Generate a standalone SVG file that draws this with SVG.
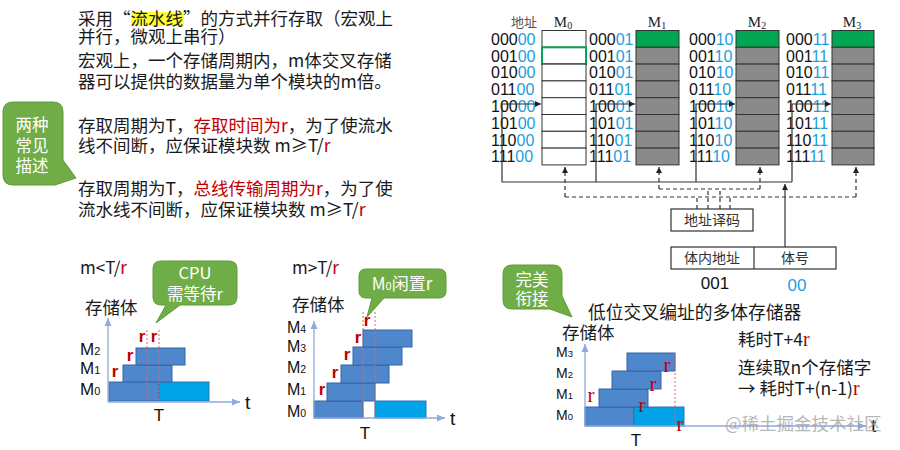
<svg xmlns="http://www.w3.org/2000/svg" width="900" height="450" viewBox="0 0 900 450">
<defs>
<style>
.t{font-family:"Noto Sans CJK SC","Liberation Sans",sans-serif;font-size:17.5px;fill:#1a1a1a}
.red{fill:#C00000}
.sr{font-family:"Liberation Serif",serif;font-size:20px;fill:#C00000}
.addr{font-family:"Liberation Sans",sans-serif;font-size:16px;fill:#111}
.bl{fill:#1CA0DC}
.ser{font-family:"Liberation Serif","Noto Sans CJK SC",serif;fill:#222}
.lab{font-family:"Noto Sans CJK SC",sans-serif;font-size:14px;fill:#333}
.cell{fill:#fff;stroke:#333;stroke-width:1}
.gc{fill:#8A8A8A;stroke:#333;stroke-width:1}
.gr{fill:#00A651;stroke:#333;stroke-width:1}
.bar{fill:#4F87CD;stroke:#3565A8;stroke-width:1}
.cy{fill:#00A2E8;stroke:#2F75B5;stroke-width:1}
.co{fill:#70AD47;stroke:#5E9A3A;stroke-width:1}
.ct{font-family:"Noto Sans CJK SC","Liberation Sans",sans-serif;font-size:17px;fill:#fff;text-anchor:middle}
.ax{stroke:#8FAADC;stroke-width:1.3;fill:none}
.dr{stroke:#E06666;stroke-width:1;stroke-dasharray:2,2;fill:none}
.ln{stroke:#333;stroke-width:1.2;fill:none}
.ds{stroke:#333;stroke-width:1.2;fill:none;stroke-dasharray:4,3}
.rr{font-family:"Liberation Sans",sans-serif;font-size:17px;font-weight:bold;fill:#C00000;text-anchor:middle}
.rs{font-family:"Liberation Serif",serif;font-size:21px;fill:#C00000;text-anchor:middle}
.ml{font-family:"Liberation Sans",sans-serif;fill:#111}
</style>
<marker id="ab" markerWidth="8" markerHeight="8" refX="6" refY="4" orient="auto" markerUnits="userSpaceOnUse"><path d="M0,1 L6,4 L0,7 Z" fill="#222"/></marker>
<marker id="aa" markerWidth="10" markerHeight="10" refX="8" refY="5" orient="auto" markerUnits="userSpaceOnUse"><path d="M0,1.5 L8,5 L0,8.5 Z" fill="#8FAADC"/></marker>
</defs>
<rect width="900" height="450" fill="#fff"/>

<!-- top-left text -->
<g id="desc">
<rect x="131" y="12" width="53" height="14" fill="#FFFF33"/>
<text class="t" x="78" y="25">采用“流水线”的方式并行存取（宏观上</text>
<text class="t" x="78" y="43">并行，微观上串行）</text>
<text class="t" x="78" y="66.5">宏观上，一个存储周期内，m体交叉存储</text>
<text class="t" x="78" y="87.5">器可以提供的数据量为单个模块的m倍。</text>
<text class="t" x="78" y="131.5">存取周期为T，<tspan class="red">存取时间为r</tspan>，为了使流水</text>
<text class="t" x="78" y="152">线不间断，应保证模块数 m≥T/<tspan class="red">r</tspan></text>
<text class="t" x="78" y="195">存取周期为T，<tspan class="red">总线传输周期为r</tspan>，为了使</text>
<text class="t" x="78" y="215.5">流水线不间断，应保证模块数 m≥T/<tspan class="red">r</tspan></text>
</g>
<g id="callout-two">
<path class="co" d="M13,102 H53 Q63,102 63,112 V160 L76,178 L55,185 H13 Q3,185 3,175 V112 Q3,102 13,102 Z"/>
<text class="ct" x="32" y="131" style="font-size:16.5px">两种</text>
<text class="ct" x="32" y="151.5" style="font-size:16.5px">常见</text>
<text class="ct" x="32" y="171.5" style="font-size:16.5px">描述</text>
</g>

<!-- memory modules -->
<text class="lab" x="524" y="27" text-anchor="middle" style="font-size:13px;fill:#555">地址</text>
<g id="M0">
<text class="ser" x="563" y="27" text-anchor="middle" font-size="15">M<tspan font-size="10" dy="2">0</tspan></text>
<rect class="cell" x="542" y="30.5" width="44" height="16.8"/>
<rect class="cell" x="542" y="47.3" width="44" height="16.8" style="stroke:#00A651;stroke-width:2"/>
<rect class="cell" x="542" y="64.1" width="44" height="16.8"/>
<rect class="cell" x="542" y="80.9" width="44" height="16.8"/>
<rect class="cell" x="542" y="97.7" width="44" height="16.8"/>
<rect class="cell" x="542" y="114.5" width="44" height="16.8"/>
<rect class="cell" x="542" y="131.3" width="44" height="16.8"/>
<rect class="cell" x="542" y="148.1" width="44" height="16.8"/>
<text class="addr" x="491" y="44.7">000<tspan class="bl">00</tspan></text>
<text class="addr" x="491" y="61.5">001<tspan class="bl">00</tspan></text>
<text class="addr" x="491" y="78.3">010<tspan class="bl">00</tspan></text>
<text class="addr" x="491" y="95.1">011<tspan class="bl">00</tspan></text>
<text class="addr" x="491" y="111.9">100<tspan class="bl">00</tspan></text>
<text class="addr" x="491" y="128.7">101<tspan class="bl">00</tspan></text>
<text class="addr" x="491" y="145.5">110<tspan class="bl">00</tspan></text>
<text class="addr" x="491" y="162.3">111<tspan class="bl">00</tspan></text>
</g>
<g id="M1">
<text class="ser" x="657" y="27" text-anchor="middle" font-size="15">M<tspan font-size="10" dy="2">1</tspan></text>
<rect class="gr" x="636" y="30.5" width="43" height="16.8"/>
<rect class="gc" x="636" y="47.3" width="43" height="16.8"/>
<rect class="gc" x="636" y="64.1" width="43" height="16.8"/>
<rect class="gc" x="636" y="80.9" width="43" height="16.8"/>
<rect class="gc" x="636" y="97.7" width="43" height="16.8"/>
<rect class="gc" x="636" y="114.5" width="43" height="16.8"/>
<rect class="gc" x="636" y="131.3" width="43" height="16.8"/>
<rect class="gc" x="636" y="148.1" width="43" height="16.8"/>
<text class="addr" x="589" y="44.7">000<tspan class="bl">01</tspan></text>
<text class="addr" x="589" y="61.5">001<tspan class="bl">01</tspan></text>
<text class="addr" x="589" y="78.3">010<tspan class="bl">01</tspan></text>
<text class="addr" x="589" y="95.1">011<tspan class="bl">01</tspan></text>
<text class="addr" x="589" y="111.9">100<tspan class="bl">01</tspan></text>
<text class="addr" x="589" y="128.7">101<tspan class="bl">01</tspan></text>
<text class="addr" x="589" y="145.5">110<tspan class="bl">01</tspan></text>
<text class="addr" x="589" y="162.3">111<tspan class="bl">01</tspan></text>
</g>
<g id="M2">
<text class="ser" x="757" y="27" text-anchor="middle" font-size="15">M<tspan font-size="10" dy="2">2</tspan></text>
<rect class="gr" x="736" y="30.5" width="43" height="16.8"/>
<rect class="gc" x="736" y="47.3" width="43" height="16.8"/>
<rect class="gc" x="736" y="64.1" width="43" height="16.8"/>
<rect class="gc" x="736" y="80.9" width="43" height="16.8"/>
<rect class="gc" x="736" y="97.7" width="43" height="16.8"/>
<rect class="gc" x="736" y="114.5" width="43" height="16.8"/>
<rect class="gc" x="736" y="131.3" width="43" height="16.8"/>
<rect class="gc" x="736" y="148.1" width="43" height="16.8"/>
<text class="addr" x="689" y="44.7">000<tspan class="bl">10</tspan></text>
<text class="addr" x="689" y="61.5">001<tspan class="bl">10</tspan></text>
<text class="addr" x="689" y="78.3">010<tspan class="bl">10</tspan></text>
<text class="addr" x="689" y="95.1">011<tspan class="bl">10</tspan></text>
<text class="addr" x="689" y="111.9">100<tspan class="bl">10</tspan></text>
<text class="addr" x="689" y="128.7">101<tspan class="bl">10</tspan></text>
<text class="addr" x="689" y="145.5">110<tspan class="bl">10</tspan></text>
<text class="addr" x="689" y="162.3">111<tspan class="bl">10</tspan></text>
</g>
<g id="M3">
<text class="ser" x="852" y="27" text-anchor="middle" font-size="15">M<tspan font-size="10" dy="2">3</tspan></text>
<rect class="gr" x="832" y="30.5" width="42" height="16.8"/>
<rect class="gc" x="832" y="47.3" width="42" height="16.8"/>
<rect class="gc" x="832" y="64.1" width="42" height="16.8"/>
<rect class="gc" x="832" y="80.9" width="42" height="16.8"/>
<rect class="gc" x="832" y="97.7" width="42" height="16.8"/>
<rect class="gc" x="832" y="114.5" width="42" height="16.8"/>
<rect class="gc" x="832" y="131.3" width="42" height="16.8"/>
<rect class="gc" x="832" y="148.1" width="42" height="16.8"/>
<text class="addr" x="786" y="44.7">000<tspan class="bl">11</tspan></text>
<text class="addr" x="786" y="61.5">001<tspan class="bl">11</tspan></text>
<text class="addr" x="786" y="78.3">010<tspan class="bl">11</tspan></text>
<text class="addr" x="786" y="95.1">011<tspan class="bl">11</tspan></text>
<text class="addr" x="786" y="111.9">100<tspan class="bl">11</tspan></text>
<text class="addr" x="786" y="128.7">101<tspan class="bl">11</tspan></text>
<text class="addr" x="786" y="145.5">110<tspan class="bl">11</tspan></text>
<text class="addr" x="786" y="162.3">111<tspan class="bl">11</tspan></text>
</g>

<g id="decoder">
<rect x="671" y="209" width="82" height="22" fill="#fff" stroke="#333" stroke-width="1.2"/>
<text class="lab" x="712" y="225" text-anchor="middle">地址译码</text>
</g>
<g id="register">
<rect x="671" y="247" width="165" height="22" fill="#fff" stroke="#333" stroke-width="1.2"/>
<line x1="754" y1="247" x2="754" y2="269" stroke="#333" stroke-width="1.2"/>
<text class="lab" x="712" y="263" text-anchor="middle">体内地址</text>
<text class="lab" x="795" y="263" text-anchor="middle">体号</text>
<text class="addr" x="715" y="289" text-anchor="middle" style="font-size:17px">001</text>
<text class="addr bl" x="797" y="291" text-anchor="middle" style="font-size:17px">00</text>
</g>

<g id="connectors">
<path class="ln" d="M502,182 V104 H541" marker-end="url(#ab)"/>
<path class="ln" d="M596,182 V104 H635" marker-end="url(#ab)"/>
<path class="ln" d="M696,182 V104 H735" marker-end="url(#ab)"/>
<path class="ln" d="M792,182 V104 H831" marker-end="url(#ab)"/>
<path class="ln" d="M502,182 H792"/>
<path class="ln" d="M785,247 V184" marker-end="url(#ab)"/>
<path class="ds" d="M565,197 H856"/>
<path class="ds" d="M659,189 H760"/>
<path class="ds" d="M697,209 V197 M730,209 V197 M708,209 V189 M720,209 V189"/>
<path class="ds" d="M565,197 V167" marker-end="url(#ab)"/>
<path class="ds" d="M856,197 V167" marker-end="url(#ab)"/>
<path class="ds" d="M659,189 V167" marker-end="url(#ab)"/>
<path class="ds" d="M760,189 V167" marker-end="url(#ab)"/>
</g>

<!-- chart 1: m<T/r -->
<g id="chart-less">
<text class="t" x="80" y="274" style="font-size:17px">m&lt;T/<tspan class="red">r</tspan></text>
<text class="t" x="85" y="313.5" style="font-size:17.5px">存储体</text>
<path class="co" d="M161,261 H229 Q237,261 237,269 V297 Q237,305 229,305 H180 L156,323 L166,305 H161 Q153,305 153,297 V269 Q153,261 161,261 Z"/>
<text class="ct" x="195" y="279" style="font-size:16.5px">CPU</text>
<text class="ct" x="195" y="300" style="font-size:16.5px">需等待r</text>
<rect class="bar" x="109" y="382" width="50" height="19"/>
<rect class="cy" x="159" y="382" width="50" height="19"/>
<rect class="bar" x="123" y="365" width="49" height="17"/>
<rect class="bar" x="136" y="348" width="49" height="17"/>
<path class="dr" d="M147,330 V402 M159,330 V402"/>
<path class="ax" d="M108,402 V318" marker-end="url(#aa)"/>
<path class="ax" d="M108,402 H240" marker-end="url(#aa)"/>
<text class="ml" x="245" y="409" font-size="19">t</text>
<text class="ml" x="159" y="421" font-size="17" text-anchor="middle">T</text>
<text class="rr" x="115" y="377">r</text>
<text class="rr" x="130" y="361">r</text>
<text class="rr" x="142" y="342">r</text>
<text class="rr" x="154" y="342">r</text>
<text class="ml" x="80" y="355" font-size="17">M<tspan font-size="11">2</tspan></text>
<text class="ml" x="80" y="374" font-size="17">M<tspan font-size="11">1</tspan></text>
<text class="ml" x="80" y="395" font-size="17">M<tspan font-size="11">0</tspan></text>
</g>

<!-- chart 2: m>T/r -->
<g id="chart-more">
<text class="t" x="292" y="274" style="font-size:17px">m&gt;T/<tspan class="red">r</tspan></text>
<text class="t" x="292" y="311" style="font-size:17.5px">存储体</text>
<path class="co" d="M366,269 H439 Q446,269 446,276 V291 Q446,298 439,298 H384 L367,317 L372,298 H366 Q359,298 359,291 V276 Q359,269 366,269 Z"/>
<text class="ct" x="402" y="290">M<tspan font-size="11">0</tspan>闲置r</text>
<rect class="bar" x="314" y="401" width="49" height="17"/>
<rect class="cy" x="375" y="401" width="51" height="17"/>
<rect class="bar" x="327" y="383" width="48" height="18"/>
<rect class="bar" x="341" y="365" width="48" height="18"/>
<rect class="bar" x="353" y="347" width="49" height="18"/>
<rect class="bar" x="363" y="330" width="49" height="17"/>
<path class="dr" d="M363,312 V418 M375,312 V418"/>
<path class="ax" d="M314,418 V321" marker-end="url(#aa)"/>
<path class="ax" d="M314,418 H445" marker-end="url(#aa)"/>
<text class="ml" x="450" y="425" font-size="19">t</text>
<text class="ml" x="365" y="439" font-size="17" text-anchor="middle">T</text>
<text class="rr" x="322" y="394.5">r</text>
<text class="rr" x="335" y="377.5">r</text>
<text class="rr" x="347" y="359.5">r</text>
<text class="rr" x="358" y="342.5">r</text>
<text class="rr" x="367" y="325.5">r</text>
<text class="ml" x="287" y="333" font-size="16">M<tspan font-size="10.5">4</tspan></text>
<text class="ml" x="287" y="352" font-size="16">M<tspan font-size="10.5">3</tspan></text>
<text class="ml" x="287" y="373" font-size="16">M<tspan font-size="10.5">2</tspan></text>
<text class="ml" x="287" y="395" font-size="16">M<tspan font-size="10.5">1</tspan></text>
<text class="ml" x="287" y="417" font-size="16">M<tspan font-size="10.5">0</tspan></text>
</g>

<!-- chart 3: perfect -->
<g id="chart-perfect">
<path class="co" d="M512,265 H553 Q562,265 562,274 V296 L572,317 L550,309 H512 Q503,309 503,300 V274 Q503,265 512,265 Z"/>
<text class="ct" x="532" y="285.5" style="font-size:16.5px">完美</text>
<text class="ct" x="532" y="305" style="font-size:16.5px">衔接</text>
<text class="t" x="588" y="318.5" style="font-size:17.8px">低位交叉编址的多体存储器</text>
<text class="t" x="562" y="339" style="font-size:17.5px">存储体</text>
<rect class="bar" x="585" y="407" width="49" height="19"/>
<rect class="cy" x="634" y="407" width="50" height="19"/>
<rect class="bar" x="599" y="389" width="49" height="18"/>
<rect class="bar" x="612" y="371" width="49" height="18"/>
<rect class="bar" x="627" y="353" width="48" height="18"/>
<path class="dr" d="M675,353 V426"/>
<path class="ax" d="M585,426 V344" marker-end="url(#aa)"/>
<path class="ax" d="M585,426 H866" marker-end="url(#aa)"/>
<text class="ml" x="871" y="432" font-size="19">t</text>
<text class="ml" x="636" y="446" font-size="17" text-anchor="middle">T</text>
<text class="rs" x="591" y="402">r</text>
<text class="rs" x="642" y="412">r</text>
<text class="rs" x="653" y="391">r</text>
<text class="rs" x="667" y="372">r</text>
<text class="rs" x="680" y="431">r</text>
<text class="ml" x="556" y="357" font-size="14">M<tspan font-size="9.5">3</tspan></text>
<text class="ml" x="556" y="378" font-size="14">M<tspan font-size="9.5">2</tspan></text>
<text class="ml" x="556" y="399" font-size="14">M<tspan font-size="9.5">1</tspan></text>
<text class="ml" x="556" y="420" font-size="14">M<tspan font-size="9.5">0</tspan></text>
<text class="t" x="738" y="346">耗时T+4<tspan class="sr">r</tspan></text>
<text class="t" x="738" y="374">连续取n个存储字</text>
<text class="t" x="738" y="394.5">→ 耗时T+(n-1)<tspan class="sr">r</tspan></text>
</g>
<text class="t" x="725" y="430" style="font-size:17.5px;fill:#9a9a9a;opacity:0.7">@稀土掘金技术社区</text>
</svg>
